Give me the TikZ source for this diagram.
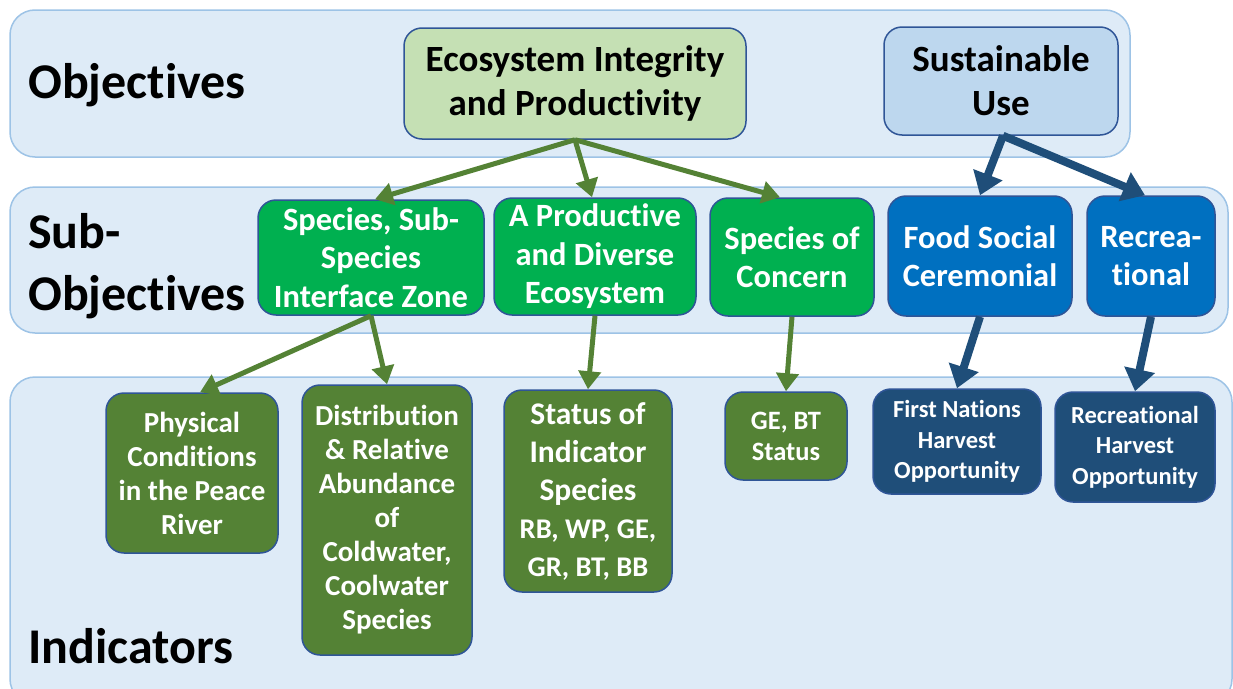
\documentclass[tikz,border=0pt]{standalone}
\usepackage{fontspec}
\setmainfont[Ligatures=NoCommon]{Carlito}
\usetikzlibrary{arrows.meta}
\definecolor{panelfill}{HTML}{DEEBF7}
\definecolor{panelline}{HTML}{9DC3E6}
\definecolor{boxline}{HTML}{2F5597}
\definecolor{lightgreen}{HTML}{C5E0B4}
\definecolor{lightblue}{HTML}{BDD7EE}
\definecolor{brightgreen}{HTML}{00B050}
\definecolor{midblue}{HTML}{0070C0}
\definecolor{olive}{HTML}{548235}
\definecolor{navy}{HTML}{1F4E79}
\tikzstyle{panel}=[draw=panelline, fill=panelfill, line width=1.5pt, rounded corners=25pt]
\tikzstyle{box}=[draw=boxline, line width=1.5pt, rounded corners=18pt, align=center, inner sep=0pt]
\tikzstyle{objbox}=[box, text=black, font=\bfseries\fontsize{37}{44}\selectfont]
\tikzstyle{subbox}=[box, text=white, font=\bfseries\fontsize{32.5}{38.5}\selectfont]
\tikzstyle{indbox}=[box, text=white, font=\bfseries\fontsize{29}{34}\selectfont]
\tikzstyle{level}=[font=\bfseries\fontsize{50}{62}\selectfont, anchor=west, align=left, inner sep=0pt]
\tikzstyle{greenarrow}=[draw=olive, line width=5pt, -{Triangle[width=22pt,length=18pt]}]
\tikzstyle{bluearrow}=[draw=navy, line width=8pt, -{Triangle[width=30pt,length=22pt]}]

\begin{document}
\begin{tikzpicture}[x=1pt, y=-1pt]
    \useasboundingbox (0,0) rectangle (1233,688);
    % the three layers
    \draw[panel] (10,10) rectangle (1130,157);
    \draw[panel] (10,187) rectangle (1228,333);
    \draw[panel] (10,377) rectangle (1232,704);
    \node[level] (lobj) at (28,85) {Objectives};
    \node[level] (lsub) at (28,266) {Sub-\\Objectives};
    \node[level] (lind) at (28,646) {Indicators};

    % objectives
    \node[objbox, fill=lightgreen, minimum width=342pt, minimum height=111pt] (eco) at (575,83.5) {Ecosystem Integrity\\and Productivity};
    \node[objbox, fill=lightblue, minimum width=234pt, minimum height=108pt] (sust) at (1001,81) {Sustainable\\Use};

    % sub-objectives
    \node[subbox, fill=brightgreen, minimum width=226pt, minimum height=115pt] (zone) at (371,257.5) {Species, Sub-\\Species\\Interface Zone};
    \node[subbox, fill=brightgreen, minimum width=202pt, minimum height=117pt] (prod) at (595,256.5) {A Productive\\and Diverse\\Ecosystem};
    \node[subbox, fill=brightgreen, minimum width=164pt, minimum height=118pt] (conc) at (792,257) {Species of\\Concern};
    \node[subbox, fill=midblue, minimum width=184pt, minimum height=120pt] (food) at (980,256) {Food Social\\Ceremonial};
    \node[subbox, fill=midblue, minimum width=128pt, minimum height=120pt] (recr) at (1151,256) {Recrea-\\tional};

    % indicators
    \node[indbox, fill=olive, minimum width=172pt, minimum height=160pt] (phys) at (192,473) {Physical\\Conditions\\in the Peace\\River};
    \node[indbox, fill=olive, minimum width=170pt, minimum height=270pt] (dist) at (387,520) {Distribution\\\& Relative\\Abundance\\of\\Coldwater,\\Coolwater\\Species};
    \node[indbox, fill=olive, minimum width=168pt, minimum height=202pt, font=\bfseries\fontsize{31.5}{38}\selectfont] (stat) at (588,491) {Status of\\Indicator\\Species\\\fontsize{28.5}{34}\selectfont RB, WP, GE,\\\fontsize{28.5}{34}\selectfont GR, BT, BB};
    \node[indbox, fill=olive, minimum width=122pt, minimum height=88pt, font=\bfseries\fontsize{26.5}{31}\selectfont] (gebt) at (786,436) {GE, BT\\Status};
    \node[indbox, fill=navy, minimum width=168pt, minimum height=105pt, font=\bfseries\fontsize{24.5}{30.5}\selectfont] (fnho) at (957,441.5) {First Nations\\Harvest\\Opportunity};
    \node[indbox, fill=navy, minimum width=160pt, minimum height=110pt, font=\bfseries\fontsize{24.5}{30.5}\selectfont] (rcho) at (1135,447) {Recreational\\Harvest\\Opportunity};

    % connectors
    \draw[greenarrow] (eco.south) -- ([xshift=4pt]zone.north);
    \draw[greenarrow] (eco.south) -- ([xshift=-3pt]prod.north);
    \draw[greenarrow] (eco.south) -- ([xshift=-12pt]conc.north);
    \draw[greenarrow] (zone.south) -- ([xshift=8pt]phys.north);
    \draw[greenarrow] (zone.south) -- (dist.north);
    \draw[greenarrow] (prod.south) -- (stat.north);
    \draw[greenarrow] (conc.south) -- (gebt.north);
    \draw[bluearrow] ([xshift=2pt]sust.south) -- (food.north);
    \draw[bluearrow] ([xshift=2pt]sust.south) -- ([xshift=-6pt]recr.north);
    \draw[bluearrow] (food.south) -- (fnho.north);
    \draw[bluearrow] (recr.south) -- (rcho.north);
\end{tikzpicture}
\end{document}
